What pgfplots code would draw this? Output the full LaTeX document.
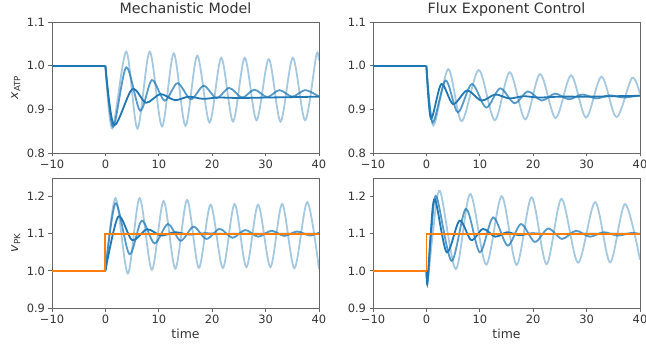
\documentclass[border=0pt]{standalone}
\usepackage{pgfplots}
\pgfplotsset{compat=1.18}
\usepackage{fontspec}
\setmainfont{DejaVu Sans}
\definecolor{c0}{HTML}{1F77B4}
\definecolor{c1}{HTML}{FF7F0E}
\pgfplotsset{
  panel/.style={
    scale only axis, width=267bp, height=131bp,
    xmin=-10, xmax=40,
    xtick={-10,0,10,20,30,40},
    xticklabels={−10,0,10,20,30,40},
    axis line style={black!60, line width=0.8bp},
    tick align=outside, tick pos=left,
    major tick length=3.5bp,
    every tick/.style={black!60, line width=0.8bp},
    tick label style={font=\fontsize{11.5}{12}\selectfont, text=black!80},
    /pgf/number format/assume math mode=true,
    title style={font=\fontsize{14.3}{15}\selectfont, text=black!80, at={(axis description cs:0.5,1)}, anchor=base, yshift=2.5bp},
    every axis y label/.style={at={(axis description cs:-0.135,0.5)}, anchor=center, rotate=90, font=\fontsize{12.5}{13}\selectfont, text=black!80},
    every axis x label/.style={at={(axis description cs:0.5,-0.238)}, anchor=base, font=\fontsize{12.5}{13}\selectfont, text=black!80},
  },
  toprow/.style={ymin=0.8, ymax=1.1, ytick={0.8,0.9,1.0,1.1}, yticklabels={0.8,0.9,1.0,1.1}},
  botrow/.style={ymin=0.9, ymax=1.25, ytick={0.9,1.0,1.1,1.2}, yticklabels={0.9,1.0,1.1,1.2}, height=130bp},
  light/.style={c0, opacity=0.4, line width=1.8bp, smooth, no markers},
  medium/.style={c0, opacity=0.75, line width=1.8bp, smooth, no markers},
  dark/.style={c0, line width=1.8bp, smooth, no markers},
  flat/.style={c0, line width=2bp, no markers},
  inp/.style={c1, line width=1.8bp, no markers},
}
\begin{document}
\begin{tikzpicture}
\path[use as bounding box] (0,0) rectangle (646bp,-347bp);

% ---------------- top left ----------------
\begin{axis}[panel, toprow, at={(52bp,-22bp)}, anchor=north west,
  title={Mechanistic Model}, ylabel={\textit{x}\textsubscript{ATP}}]
\addplot[light] coordinates {(0,1.0) (1.3,0.856) (3.9,1.032) (6.0,0.856) (8.3,1.032) (10.6,0.861) (12.8,1.028) (15.0,0.862) (17.2,1.023) (19.5,0.870) (21.7,1.018) (23.9,0.872) (26.1,1.018) (28.3,0.875) (30.6,1.015) (32.8,0.872) (35.1,1.018) (37.4,0.875) (39.5,1.024) (40,1.012)};
\addplot[medium] coordinates {(0,1.0) (1.45,0.860) (3.9,0.996) (6.5,0.897) (8.7,0.967) (11.1,0.920) (13.5,0.960) (16.0,0.923) (18.4,0.954) (20.8,0.926) (23.2,0.949) (25.6,0.927) (27.9,0.945) (30.3,0.928) (32.6,0.944) (35.0,0.929) (37.4,0.944) (39.8,0.931) (40,0.931)};
\addplot[dark] coordinates {(0,1.0) (1.6,0.864) (5.0,0.946) (7.6,0.915) (10.3,0.935) (13.0,0.921) (15.6,0.929) (18.3,0.924) (21,0.927) (25,0.926) (30,0.927) (35,0.928) (40,0.929)};
\addplot[flat] coordinates {(-10,1.0) (0,1.0)};
\end{axis}

% ---------------- top right ----------------
\begin{axis}[panel, toprow, at={(373bp,-22bp)}, anchor=north west,
  title={Flux Exponent Control}]
\addplot[light] coordinates {(0,1.0) (1.3,0.863) (4.1,0.992) (6.6,0.873) (9.8,0.990) (12.8,0.875) (15.6,0.985) (18.5,0.877) (21.3,0.981) (24.2,0.880) (27.1,0.978) (29.9,0.881) (32.8,0.975) (35.6,0.882) (38.5,0.972) (40,0.935)};
\addplot[medium] coordinates {(0,1.0) (1.15,0.870) (3.6,0.966) (5.9,0.893) (8.5,0.958) (11.2,0.904) (13.8,0.948) (16.5,0.914) (19.0,0.941) (21.6,0.920) (24.1,0.936) (26.7,0.923) (29.2,0.934) (31.8,0.925) (34.3,0.932) (36.9,0.927) (39.4,0.931) (40,0.931)};
\addplot[dark] coordinates {(0,1.0) (0.85,0.879) (2.8,0.958) (5.0,0.912) (7.6,0.943) (10.3,0.920) (12.9,0.934) (15.5,0.925) (18.2,0.930) (21,0.927) (25,0.929) (30,0.929) (35,0.930) (40,0.931)};
\addplot[flat] coordinates {(-10,1.0) (0,1.0)};
\end{axis}

% ---------------- bottom left ----------------
\begin{axis}[panel, botrow, at={(52bp,-178bp)}, anchor=north west,
  xlabel={time}, ylabel={\textit{v}\textsubscript{PK}}]
\addplot[light] coordinates {(0,1.0) (1.9,1.196) (4.2,0.993) (6.4,1.196) (8.7,1.003) (10.9,1.188) (13.1,1.006) (15.3,1.191) (17.5,1.008) (19.7,1.178) (22.0,1.008) (24.2,1.180) (26.4,1.010) (28.6,1.178) (30.9,1.010) (33.1,1.180) (35.4,1.007) (37.8,1.185) (40,1.005)};
\addplot[medium] coordinates {(0,1.0) (1.9,1.182) (4.5,1.045) (6.8,1.135) (9.2,1.074) (11.7,1.126) (14.1,1.081) (16.5,1.119) (18.9,1.086) (21.4,1.113) (23.8,1.089) (26.2,1.110) (28.6,1.092) (31.1,1.108) (33.5,1.094) (35.9,1.106) (38.3,1.095) (40,1.103)};
\addplot[dark] coordinates {(0,1.0) (2.4,1.146) (5.0,1.083) (7.8,1.112) (10.4,1.095) (13.0,1.104) (15.6,1.098) (18.5,1.101) (22,1.0995) (30,1.1) (40,1.1)};
\addplot[inp] coordinates {(-10,1.0) (0,1.0) (0,1.1) (40,1.1)};
\end{axis}

% ---------------- bottom right ----------------
\begin{axis}[panel, botrow, at={(373bp,-178bp)}, anchor=north west,
  xlabel={time}]
\addplot[light] coordinates {(0,1.0) (0.35,0.985) (1.2,1.10) (2.55,1.215) (5.5,1.005) (8.2,1.207) (11.2,1.017) (14.1,1.201) (16.9,1.016) (19.7,1.198) (22.5,1.018) (25.3,1.194) (28.4,1.022) (31.6,1.185) (34.4,1.023) (37.2,1.180) (40,1.030)};
\addplot[medium] coordinates {(0,1.0) (0.25,0.975) (1.0,1.12) (1.9,1.200) (4.7,1.027) (7.4,1.167) (10.0,1.050) (12.5,1.144) (15.2,1.068) (17.7,1.126) (20.3,1.078) (22.8,1.114) (25.4,1.086) (28.0,1.108) (30.6,1.092) (33.2,1.104) (35.8,1.095) (38.4,1.102) (40,1.099)};
\addplot[dark] coordinates {(0,1.0) (0.2,0.966) (0.8,1.10) (1.6,1.193) (3.8,1.050) (6.2,1.135) (8.4,1.083) (10.6,1.113) (12.9,1.092) (15.1,1.104) (17.4,1.096) (19.7,1.101) (22.5,1.099) (30,1.1) (40,1.1)};
\addplot[inp] coordinates {(-10,1.0) (0,1.0) (0,1.1) (40,1.1)};
\end{axis}
\end{tikzpicture}
\end{document}
